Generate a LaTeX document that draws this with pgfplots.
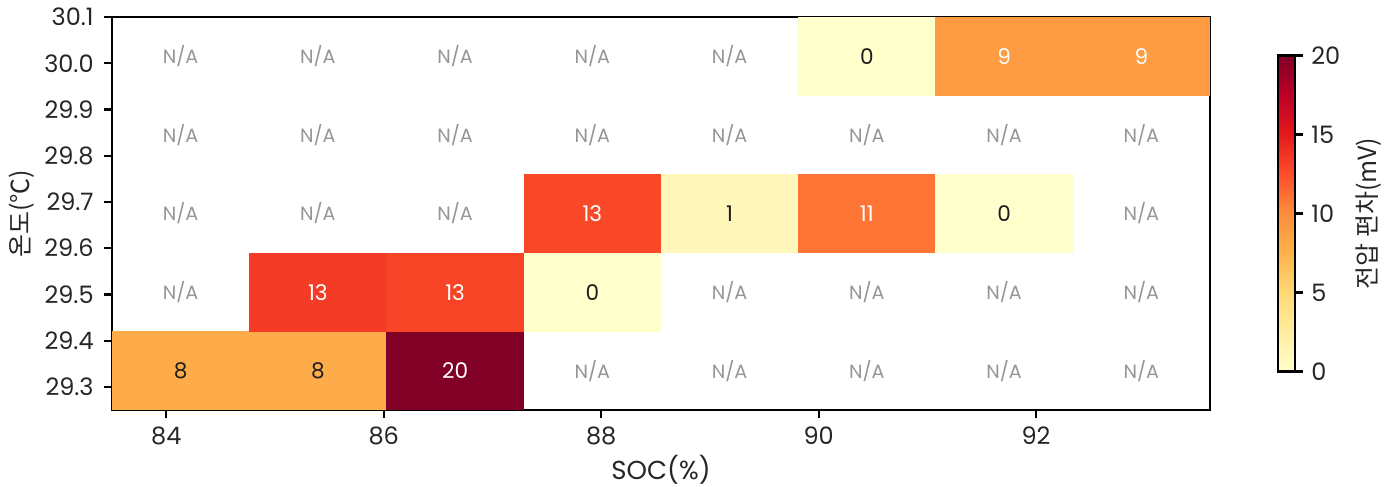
\documentclass[border=0pt]{standalone}
\usepackage{fontspec}
\setmainfont{Poppins}
\newfontfamily\kr{Noto Sans CJK KR}
\usepackage{pgfplots}
\usepackage{pgfplotstable}
\pgfplotsset{compat=1.18}
\pgfplotsset{/pgf/number format/assume math mode=true}
\definecolor{txtdark}{RGB}{30,30,30}
\definecolor{nagray}{RGB}{150,150,150}
\pgfplotsset{colormap={ylorrd}{rgb255=(255,255,204) rgb255=(255,237,160) rgb255=(254,217,118) rgb255=(254,178,76) rgb255=(253,141,60) rgb255=(252,78,42) rgb255=(227,26,28) rgb255=(189,0,38) rgb255=(128,0,38)}}
\pgfdeclareplotmark{cell}{\pgfpathrectanglecorners{\pgfqpoint{-34.35pt}{-19.7pt}}{\pgfqpoint{34.35pt}{19.7pt}}\pgfusepathqfill}

\pgfplotstableread{
x y v
84.13125 29.335 8
85.39375 29.335 8
86.65625 29.335 20
85.39375 29.505 13.4
86.65625 29.505 13.0
87.91875 29.505 0
87.91875 29.675 12.8
89.18125 29.675 1
90.44375 29.675 11
91.70625 29.675 0
90.44375 30.015 0
91.70625 30.015 9
92.96875 30.015 9
}\cells

\pgfplotstableread{
x y
87.91875 29.335
89.18125 29.335
90.44375 29.335
91.70625 29.335
92.96875 29.335
84.13125 29.505
89.18125 29.505
90.44375 29.505
91.70625 29.505
92.96875 29.505
84.13125 29.675
85.39375 29.675
86.65625 29.675
92.96875 29.675
84.13125 29.845
85.39375 29.845
86.65625 29.845
87.91875 29.845
89.18125 29.845
90.44375 29.845
91.70625 29.845
92.96875 29.845
84.13125 30.015
85.39375 30.015
86.65625 30.015
87.91875 30.015
89.18125 30.015
}\nacells

\begin{document}
\begin{tikzpicture}
\path[use as bounding box] (-56pt,-38.5pt) rectangle (638pt,205pt);
\begin{axis}[
  at={(0,0)}, anchor=south west,
  width=549pt, height=196.5pt, scale only axis,
  xmin=83.5, xmax=93.6, ymin=29.25, ymax=30.1,
  xtick={84,86,88,90,92},
  ytick={29.3,29.4,29.5,29.6,29.7,29.8,29.9,30.0,30.1},
  yticklabel style={/pgf/number format/fixed, /pgf/number format/fixed zerofill, /pgf/number format/precision=1},
  tick label style={font=\fontsize{12}{14}\selectfont, text=black!85},
  xticklabel style={inner sep=0pt, anchor=north, yshift=-4pt},
  yticklabel style={inner sep=0pt, anchor=east, xshift=-5pt},
  tick align=outside, major tick length=4pt,
  xtick pos=left, ytick pos=left,
  axis line style={line width=1.1pt},
  every tick/.style={line width=1.1pt, black},
  xlabel={SOC(\%)},
  xlabel style={at={(axis description cs:0.5,-0.178)}, anchor=base, font=\fontsize{13}{15}\selectfont, text=black!85},
  ylabel={\kr 온도(℃)},
  ylabel style={at={(axis description cs:-0.0824,0.5)}, anchor=center, font=\fontsize{12.5}{15}\selectfont, text=black!85},
  colorbar, point meta min=0, point meta max=20, colormap name=ylorrd,
  colorbar shift/.style={xshift=34pt},
  colorbar style={
    at={(parent axis.east)}, anchor=west,
    width=8.5pt, height=158pt, scale only axis,
    ytick={0,5,10,15,20}, ytick pos=right, yticklabel pos=right,
    tick align=outside, major tick length=4pt,
    axis line style={line width=1.1pt},
    every tick/.style={line width=1.1pt, black},
    yticklabel style={font=\fontsize{12}{14}\selectfont, text=black!85, inner sep=0pt, anchor=west, xshift=4pt},
    ylabel={\kr 전압 편차(mV)},
    ylabel style={at={(axis description cs:5.3,0.5)}, anchor=center, font=\fontsize{12.5}{15}\selectfont, text=black!85},
  },
]
\addplot[scatter, only marks, mark=cell, point meta=\thisrow{v},
  scatter/use mapped color={draw=mapped color, fill=mapped color}]
  table[x=x, y=y] {\cells};
% labels on light cells (dark text)
\addplot[draw=none, mark=none, point meta=\thisrow{v},
  restrict expr to domain={\thisrow{v}}{-1:8.5},
  nodes near coords,
  every node near coord/.append style={anchor=center, inner sep=0pt, text=txtdark,
    font=\fontsize{10.8}{12}\selectfont,
    /pgf/number format/fixed, /pgf/number format/precision=0}]
  table[x=x, y=y] {\cells};
% labels on dark cells (white text)
\addplot[draw=none, mark=none, point meta=\thisrow{v},
  restrict expr to domain={\thisrow{v}}{8.5:100},
  nodes near coords,
  every node near coord/.append style={anchor=center, inner sep=0pt, text=white,
    font=\fontsize{10.8}{12}\selectfont,
    /pgf/number format/fixed, /pgf/number format/precision=0}]
  table[x=x, y=y] {\cells};
\addplot[draw=none, mark=none,
  nodes near coords={N/A},
  every node near coord/.append style={anchor=center, inner sep=0pt, text=nagray, font=\fontsize{9.6}{11}\selectfont}]
  table[x=x, y=y] {\nacells};
\end{axis}
\end{tikzpicture}
\end{document}
